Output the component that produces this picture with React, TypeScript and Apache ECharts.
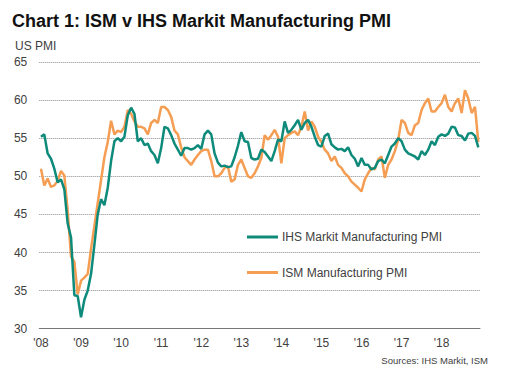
import React, { useEffect, useRef } from "react";
import * as echarts from "echarts";

const years = ["08", "09", "10", "11", "12", "13", "14", "15", "16", "17", "18"];
const months = years.flatMap((y) =>
  ["01", "02", "03", "04", "05", "06", "07", "08", "09", "10", "11", "12"].map((m) => `20${y}-${m}`)
);

const ihsMarkit = [
  55.2, 55.5, 53.0, 52.3, 51.0, 49.2, 49.6, 48.3, 43.8, 42.0, 34.4, 34.3,
  31.5, 33.8, 35.0, 37.2, 41.0, 45.0, 47.0, 46.2, 48.5, 52.0, 54.6, 55.0,
  54.6, 55.2, 58.0, 59.0, 58.2, 54.6, 55.0, 54.1, 54.3, 53.3, 52.8, 51.7,
  53.7, 56.5, 56.3, 55.4, 54.3, 53.5, 52.7, 53.7, 53.7, 53.5, 53.7, 54.1,
  53.6, 55.5, 56.0, 55.5, 53.0, 51.8, 51.3, 51.4, 51.2, 51.3, 52.5, 54.0,
  55.8, 54.6, 54.5, 52.4, 52.2, 52.3, 53.5, 53.2, 52.6, 52.0, 53.3, 54.8,
  54.6, 57.2, 55.7, 56.1, 56.7, 57.4, 56.1, 57.0, 57.4, 56.5, 55.2, 54.1,
  53.9, 55.3, 55.6, 54.2, 53.8, 53.5, 53.6, 53.3, 53.8, 52.8, 52.3, 51.3,
  52.4, 51.5, 51.5, 50.9, 51.1, 52.0, 52.2, 51.7, 52.8, 53.9, 54.3, 55.0,
  54.6, 53.5, 53.0, 52.8, 52.6, 52.2, 53.3, 52.8, 53.5, 54.6, 54.1, 55.2,
  55.5, 55.3, 55.6, 56.5, 56.4, 55.4, 55.3, 54.7, 55.6, 55.7, 55.3, 53.8,
];

const ism = [
  51.0, 48.8, 49.7, 48.6, 48.8, 49.4, 50.7, 50.1, 45.5, 39.5, 38.8, 34.5,
  36.3, 36.7, 37.2, 40.5, 43.5, 46.5, 49.5, 52.5, 54.5, 57.3, 55.5, 56.0,
  55.8, 56.5, 58.7, 58.2, 57.2, 56.5, 56.5, 56.3, 55.5, 57.0, 57.4, 57.0,
  59.1, 59.1, 58.7, 57.8, 56.0, 55.5, 53.8, 52.5, 52.0, 51.5, 52.2, 52.8,
  53.3, 53.5, 53.5, 52.0, 50.0, 50.0, 50.4, 51.1, 51.3, 49.3, 49.6, 51.5,
  52.2, 51.1, 50.0, 49.8, 50.4, 51.3, 52.4, 55.4, 54.8, 55.4, 56.1, 55.2,
  51.7, 55.0, 55.4, 55.7, 55.9, 55.4, 56.5, 58.5, 56.0, 57.2, 56.5, 55.2,
  54.5, 53.5, 53.0, 52.0, 52.6, 51.5, 51.1, 50.4, 50.0, 49.3, 48.9, 48.5,
  48.0, 49.6, 50.4, 51.1, 50.9, 52.2, 52.6, 49.8, 51.5, 52.2, 53.3, 54.8,
  57.4, 57.0, 55.7, 55.4, 56.7, 57.0, 58.7, 59.6, 60.2, 58.5, 58.5, 59.1,
  59.6, 60.7, 59.1, 58.5, 59.6, 60.2, 58.3, 61.3, 60.2, 58.3, 59.1, 54.5,
];

const seriesNames = ["IHS Markit Manufacturing PMI", "ISM Manufacturing PMI"];
const colors = ["#0e8a7b", "#f59d52"];
const FONT = "'Liberation Sans', Arial, sans-serif";

export default function App() {
  const ref = useRef<HTMLDivElement>(null);
  useEffect(() => {
    if (!ref.current) return;
    const chart = echarts.init(ref.current, null, { renderer: "svg" });
    chart.setOption({
      animation: false,
      textStyle: { fontFamily: FONT },
      title: {
        text: "Chart 1: ISM v IHS Markit Manufacturing PMI",
        left: 12,
        top: 12,
        padding: 0,
        textStyle: { fontSize: 18, fontWeight: "bold", color: "#111", fontFamily: FONT },
      },
      graphic: [
        {
          type: "text",
          left: 15,
          top: 40,
          style: { text: "US PMI", fontSize: 12, fill: "#404040", fontFamily: FONT },
        },
        {
          type: "text",
          right: 20,
          top: 355,
          style: { text: "Sources: IHS Markit, ISM", fontSize: 9.5, fill: "#404040", fontFamily: FONT },
        },
      ],
      legend: {
        orient: "vertical",
        left: 247,
        top: 231,
        itemGap: 23.5,
        itemWidth: 31,
        itemHeight: 3,
        icon: "rect",
        padding: 0,
        data: seriesNames,
        textStyle: { fontSize: 12, color: "#404040", fontFamily: FONT, padding: [0, 0, 0, -1] },
      },
      grid: { left: 39.3, right: 28, top: 62, bottom: 47.3, containLabel: false },
      xAxis: {
        type: "category",
        data: months,
        boundaryGap: true,
        axisLine: { lineStyle: { color: "#777", width: 1 } },
        axisTick: { interval: 11, length: 5, lineStyle: { color: "#777" } },
        axisLabel: {
          interval: 11,
          margin: 8,
          fontSize: 12,
          color: "#404040",
          fontFamily: FONT,
          formatter: (v: string) => "'" + v.slice(2, 4),
        },
        splitLine: { show: false },
      },
      yAxis: {
        type: "value",
        min: 30,
        max: 65,
        interval: 5,
        axisLine: { show: false },
        axisTick: { show: false },
        axisLabel: { margin: 12, fontSize: 12, color: "#404040", fontFamily: FONT },
        splitLine: { lineStyle: { color: "#8a8a8a", type: [1, 1], width: 1 } },
      },
      series: [
        {
          name: seriesNames[0],
          type: "line",
          data: ihsMarkit,
          symbol: "none",
          lineStyle: { color: colors[0], width: 2.5 },
          itemStyle: { color: colors[0] },
          z: 3,
        },
        {
          name: seriesNames[1],
          type: "line",
          data: ism,
          symbol: "none",
          lineStyle: { color: colors[1], width: 2.5 },
          itemStyle: { color: colors[1] },
          z: 2,
        },
      ],
    });
    return () => chart.dispose();
  }, []);
  return (
    <div
      ref={ref}
      style={{ position: "absolute", left: 0, top: 0, width: 508, height: 376, background: "#fff" }}
    />
  );
}
